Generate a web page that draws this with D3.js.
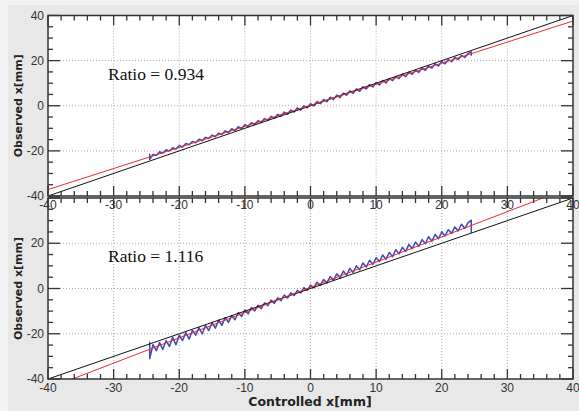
<!DOCTYPE html>
<meta charset="utf-8">
<style>
body { margin: 0; background: #f3f3f3; }
text { font-family: Arial, "Liberation Sans", sans-serif; }
</style>
<body>
<script src="https://cdnjs.cloudflare.com/ajax/libs/d3/7.8.5/d3.min.js"></script>
<script>
// controlled x positions (mm), shared by both runs
var xs = [-24.5,-24.5,-24,-23.5,-23,-22.5,-22,-21.5,-21,-20.5,-20,-19.5,-19,-18.5,-18,-17.5,-17,-16.5,-16,-15.5,-15,-14.5,-14,-13.5,-13,-12.5,-12,-11.5,-11,-10.5,-10,-9.5,-9,-8.5,-8,-7.5,-7,-6.5,-6,-5.5,-5,-4.5,-4,-3.5,-3,-2.5,-2,-1.5,-1,-0.5,0,0.5,1,1.5,2,2.5,3,3.5,4,4.5,5,5.5,6,6.5,7,7.5,8,8.5,9,9.5,10,10.5,11,11.5,12,12.5,13,13.5,14,14.5,15,15.5,16,16.5,17,17.5,18,18.5,19,19.5,20,20.5,21,21.5,22,22.5,23,23.5,24,24.5,24.5];

// observed x (mm), upper run
var obsTop = [-21.3,-23.8,-21.6,-22.0,-20.4,-21.0,-19.5,-20.1,-18.6,-19.2,-17.6,-18.3,-16.7,-17.3,-15.8,-16.4,-14.8,-15.5,-14.0,-14.5,-13.0,-13.7,-12.1,-12.8,-11.1,-11.9,-10.2,-11.0,-9.3,-10.1,-8.4,-9.2,-7.5,-8.3,-6.6,-7.4,-5.7,-6.5,-4.7,-5.6,-3.8,-4.7,-2.8,-3.8,-1.9,-2.8,-0.9,-1.9,0.0,-1.0,0.9,-0.1,1.9,0.9,2.8,1.8,3.8,2.7,4.7,3.6,5.6,4.6,6.6,5.5,7.5,6.4,8.4,7.4,9.4,8.3,10.3,9.2,11.2,10.1,12.1,11.1,13.0,12.0,14.0,12.9,14.9,13.9,15.8,14.8,16.7,15.7,17.7,16.7,18.6,17.6,19.6,18.6,20.5,19.5,21.4,20.5,22.3,21.4,23.2,23.9,22.2];

// observed x (mm), lower run
var obsBot = [-23.5,-31.0,-24.8,-27.5,-23.9,-26.9,-23.0,-25.6,-21.6,-24.9,-20.6,-23.0,-19.5,-22.4,-18.5,-20.6,-17.3,-20.1,-16.3,-18.6,-15.1,-17.5,-14.0,-16.3,-12.8,-15.0,-11.9,-13.8,-10.6,-12.4,-9.5,-11.2,-8.4,-9.9,-7.4,-8.9,-6.3,-7.6,-5.1,-6.6,-4.1,-5.4,-2.9,-4.2,-1.9,-3.1,-0.8,-2.0,0.4,-0.8,1.5,0.3,2.8,1.3,4.0,2.4,5.3,3.6,6.5,4.7,7.7,5.9,8.9,7.1,10.0,8.3,11.3,9.5,12.5,10.6,13.6,11.9,14.8,12.9,15.9,14.1,17.2,15.3,18.2,16.4,19.5,17.6,20.5,18.6,21.6,19.8,22.9,20.9,23.9,22.0,25.1,23.2,26.0,24.4,27.2,25.4,28.4,26.6,29.0,30.2,24.5];

var ratios = [0.934, 1.116];
var offsets = [0.2, 0.5];
var xTicks = [-40,-30,-20,-10,0,10,20,30,40];
var yTicks = [-40,-20,0,20,40];

var W = 579, H = 411;
var svg = d3.select("body").append("svg").attr("width", W).attr("height", H);

svg.append("rect").attr("x", 8).attr("y", 5).attr("width", W - 8).attr("height", H - 5).attr("fill", "#e8e8e8");

var x = d3.scaleLinear().domain([-40, 40]).range([48, 573]);

var panels = [
	{ y: d3.scaleLinear().domain([-40, 40]).range([196, 15.5]), obs: obsTop, ratio: ratios[0], off: offsets[0] },
	{ y: d3.scaleLinear().domain([-40, 40]).range([379, 198]), obs: obsBot, ratio: ratios[1], off: offsets[1] }
];

var axisCol = "#333";

panels.forEach(function(p, i) {
	var y = p.y;
	var g = svg.append("g");
	g.append("rect").attr("x", x(-40)).attr("y", y(40))
		.attr("width", x(40) - x(-40)).attr("height", y(-40) - y(40)).attr("fill", "#fff");

	// dotted grid
	g.selectAll(".gx").data(xTicks.slice(1, -1)).enter().append("line")
		.attr("x1", d => x(d)).attr("x2", d => x(d)).attr("y1", y(40)).attr("y2", y(-40))
		.attr("stroke", "#aaa").attr("stroke-dasharray", "1,2");
	g.selectAll(".gy").data(yTicks.slice(1, -1)).enter().append("line")
		.attr("y1", d => y(d)).attr("y2", d => y(d)).attr("x1", x(-40)).attr("x2", x(40))
		.attr("stroke", "#aaa").attr("stroke-dasharray", "1,2");

	var clipId = "clip" + i;
	svg.append("clipPath").attr("id", clipId).append("rect")
		.attr("x", x(-40)).attr("y", y(40)).attr("width", x(40) - x(-40)).attr("height", y(-40) - y(40));
	var plot = g.append("g").attr("clip-path", "url(#" + clipId + ")");

	// measured data
	var line = d3.line().x(d => x(d[0])).y(d => y(d[1]));
	plot.append("path").datum(xs.map((v, k) => [v, p.obs[k]]))
		.attr("d", line).attr("fill", "none").attr("stroke", "#3a4cbc").attr("stroke-width", 1.5)
		.attr("stroke-linejoin", "round");

	// ideal 1:1 line
	plot.append("path").datum([[-40, -40], [40, 40]]).attr("d", line)
		.attr("fill", "none").attr("stroke", "#111").attr("stroke-width", 1);
	// fitted line
	plot.append("path").datum([[-45, -45 * p.ratio + p.off], [45, 45 * p.ratio + p.off]]).attr("d", line)
		.attr("fill", "none").attr("stroke", "#f02828").attr("stroke-width", 1);

	// ticks, all four sides
	var minorX = d3.range(-40, 41, 2), minorY = d3.range(-40, 41, 5);
	var tk = g.append("g").attr("stroke", axisCol).attr("stroke-width", 1.3);
	minorX.forEach(function(v) {
		var len = v % 10 === 0 ? 10 : 5;
		tk.append("line").attr("x1", x(v)).attr("x2", x(v)).attr("y1", y(-40)).attr("y2", y(-40) - len);
		tk.append("line").attr("x1", x(v)).attr("x2", x(v)).attr("y1", y(40)).attr("y2", y(40) + len);
	});
	minorY.forEach(function(v) {
		var len = v % 20 === 0 ? 12 : 5;
		tk.append("line").attr("y1", y(v)).attr("y2", y(v)).attr("x1", x(-40)).attr("x2", x(-40) + len);
		tk.append("line").attr("y1", y(v)).attr("y2", y(v)).attr("x1", x(40)).attr("x2", x(40) - len);
	});
	g.append("rect").attr("x", x(-40)).attr("y", y(40))
		.attr("width", x(40) - x(-40)).attr("height", y(-40) - y(40))
		.attr("fill", "none").attr("stroke", axisCol).attr("stroke-width", 1.5);

	g.append("text").attr("x", 108).attr("y", y(20) + 19)
		.style("font-family", "'Liberation Serif', 'Times New Roman', serif").style("font-size", "17.5px")
		.attr("fill", "#111").text("Ratio = " + p.ratio.toFixed(3));

	g.append("text").attr("transform", "translate(22," + y(0) + ") rotate(-90)")
		.attr("text-anchor", "middle").style("font-family", "'DejaVu Sans', sans-serif")
		.style("font-size", "11px").style("font-weight", "bold")
		.attr("fill", "#222").text("Observed x[mm]");
});

// tick labels drawn last so they sit over the neighbouring panel
panels.forEach(function(p, i) {
	var y = p.y;
	svg.append("g").selectAll("text").data(i === 1 ? yTicks.slice(0, -1) : yTicks).enter().append("text")
		.attr("x", 44).attr("y", d => y(d) + 4).attr("text-anchor", "end")
		.style("font-size", "12px").attr("fill", "#333").text(d => d);
	svg.append("g").selectAll("text").data(xTicks).enter().append("text")
		.attr("x", d => x(d)).attr("y", y(-40) + 13).attr("text-anchor", "middle")
		.style("font-size", "12px").attr("fill", "#333").text(d => d);
});

svg.append("text").attr("x", 310).attr("y", 406).attr("text-anchor", "middle")
	.style("font-family", "'DejaVu Sans', sans-serif")
	.style("font-size", "12.5px").style("font-weight", "bold").attr("fill", "#222").text("Controlled x[mm]");
</script>
</body>
